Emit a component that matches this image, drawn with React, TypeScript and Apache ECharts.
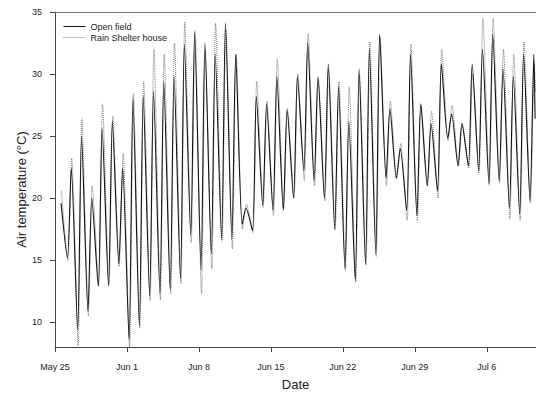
import React, { useEffect, useRef } from "react";
import * as echarts from "echarts";

// Day offsets of the x-axis ticks (days since May 25) and their labels
const tickDays = [0, 7, 14, 21, 28, 35, 42];
const tickLabels = ["May 25", "Jun 1", "Jun 8", "Jun 15", "Jun 22", "Jun 29", "Jul 6"];
const yTicks = [10, 15, 20, 25, 30, 35];

// Hour of day of the daily minimum / maximum readings
const openMinHour = 5;
const openMaxHour = 14;
const shelterMinHour = 6;
const shelterMaxHour = 15;

// Daily minimum and maximum air temperature (°C), day 0 = May 25
const openMin = [null, 15.2, 9.4, 10.9, 12.9, 12.9, 14.7, 8.6, 9.7, 12.1, 12.3, 12.6, 13.5, 17.0, 14.2, 15.5, 16.7, 16.7, 17.9, 17.4, 19.4, 19.0, 19.0, 20.0, 22.2, 21.4, 20.0, 17.5, 14.3, 13.4, 14.7, 15.5, 21.6, 21.6, 19.0, 18.6, 21.0, 20.6, 24.8, 22.6, 22.6, 22.2, 21.2, 21.4, 19.2, 18.7, 19.8];
const openMax = [19.6, 22.4, 25.0, 20.0, 25.6, 26.2, 22.4, 28.0, 28.2, 28.6, 29.4, 29.8, 32.4, 33.3, 32.5, 31.6, 34.1, 31.6, 19.2, 28.2, 27.6, 29.8, 27.2, 29.8, 32.5, 29.8, 30.8, 29.0, 26.2, 30.4, 32.0, 33.2, 27.2, 24.0, 31.6, 27.6, 26.0, 30.8, 26.8, 26.0, 30.8, 32.0, 33.2, 30.4, 29.8, 31.6, 31.6];
const shelterMin = [null, 15.0, 8.1, 10.5, 13.0, 13.0, 14.5, 8.0, 9.5, 11.7, 11.8, 12.3, 13.1, 16.4, 12.3, 14.3, 16.5, 15.9, 17.5, 17.2, 19.2, 18.6, 19.2, 20.0, 21.4, 21.0, 19.8, 17.4, 14.2, 13.2, 14.6, 15.3, 21.0, 21.6, 18.2, 18.2, 21.0, 20.0, 24.6, 22.6, 22.4, 22.0, 21.0, 21.2, 18.3, 18.2, 19.6];
const shelterMax = [20.6, 23.2, 26.4, 21.0, 27.6, 26.6, 23.6, 28.4, 29.4, 32.0, 31.6, 32.5, 34.2, 33.5, 32.0, 34.1, 33.5, 31.6, 19.5, 29.4, 27.8, 31.2, 27.0, 30.0, 33.3, 29.6, 30.4, 29.4, 29.0, 30.0, 32.6, 33.0, 27.8, 24.4, 32.4, 27.4, 27.0, 32.0, 27.5, 26.0, 30.0, 34.5, 34.5, 32.0, 31.6, 32.6, 30.8];

// Last reading of each series: [day offset, °C]
const openLast = [46.7, 26.4];
const shelterLast = [46.75, 28.6];

const buildSeries = (mins: (number | null)[], maxs: number[], hMin: number, hMax: number, last: number[]) => {
  const pts: number[][] = [];
  for (let d = 0; d < maxs.length; d++) {
    if (mins[d] != null) pts.push([d + hMin / 24, mins[d] as number]);
    pts.push([d + hMax / 24, maxs[d]]);
  }
  pts.push(last);
  return pts;
};

const FONT = "'Liberation Sans', Arial, Helvetica, sans-serif";

export default function App() {
  const ref = useRef<HTMLDivElement>(null);
  useEffect(() => {
    if (!ref.current) return;
    const chart = echarts.init(ref.current, undefined, { renderer: "svg" });
    const xMax = 46.79;
    chart.setOption({
      animation: false,
      backgroundColor: "#ffffff",
      textStyle: { fontFamily: FONT },
      grid: { left: 55, right: 0, top: 12, bottom: 44 },
      legend: {
        data: ["Open field", "Rain Shelter house"],
        orient: "vertical",
        left: 63,
        top: 22,
        padding: 0,
        itemWidth: 22,
        itemHeight: 9,
        itemGap: 2,
        itemStyle: { color: "rgba(0,0,0,0)", borderColor: "rgba(0,0,0,0)", borderWidth: 0 },
        lineStyle: { width: 1 },
        textStyle: { fontSize: 9, color: "#222", fontFamily: FONT },
      },
      xAxis: [
        {
          type: "value",
          min: 0,
          max: xMax,
          name: "Date",
          nameLocation: "middle",
          nameGap: 31,
          nameMoveOverlap: false,
          nameTextStyle: { fontSize: 13, color: "#222", fontFamily: FONT },
          axisLine: { show: true, lineStyle: { color: "#444", width: 1 } },
          axisTick: { show: true, length: 5, lineStyle: { color: "#444" }, customValues: tickDays },
          axisLabel: {
            fontSize: 9,
            color: "#222",
            margin: 15,
            customValues: tickDays,
            formatter: (v: number) => {
              const i = tickDays.indexOf(Math.round(v));
              return i >= 0 && Math.abs(v - tickDays[i]) < 1e-6 ? tickLabels[i] : "";
            },
          },
          splitLine: { show: false },
        },
        {
          type: "value",
          position: "top",
          min: 0,
          max: xMax,
          axisLine: { show: true, lineStyle: { color: "#777", width: 1 } },
          axisTick: { show: false },
          axisLabel: { show: false },
          splitLine: { show: false },
        },
      ],
      yAxis: {
        type: "value",
        min: 8,
        max: 35,
        name: "Air temperature (°C)",
        nameLocation: "middle",
        nameGap: 27,
        nameMoveOverlap: false,
        nameTextStyle: { fontSize: 13, color: "#222", fontFamily: FONT, padding: [0, 20, 0, 0] },
        axisLine: { show: true, lineStyle: { color: "#444", width: 1 } },
        axisTick: { show: true, length: 5, lineStyle: { color: "#444" }, customValues: yTicks },
        axisLabel: { fontSize: 9, color: "#222", margin: 13, customValues: yTicks },
        splitLine: { show: false },
      },
      series: [
        {
          name: "Rain Shelter house",
          type: "line",
          xAxisIndex: 0,
          data: buildSeries(shelterMin, shelterMax, shelterMinHour, shelterMaxHour, shelterLast),
          showSymbol: false,
          symbol: "none",
          smooth: 0.25,
          lineStyle: { color: "#7a7a7a", width: 1, type: [1, 1] },
          itemStyle: { color: "#7a7a7a" },
          z: 2,
        },
        {
          name: "Open field",
          type: "line",
          xAxisIndex: 0,
          data: buildSeries(openMin, openMax, openMinHour, openMaxHour, openLast),
          showSymbol: false,
          symbol: "none",
          smooth: 0.25,
          lineStyle: { color: "#111", width: 1.1 },
          itemStyle: { color: "#111" },
          z: 3,
        },
      ],
    });
    return () => chart.dispose();
  }, []);
  return (
    <div
      ref={ref}
      style={{ position: "fixed", left: 0, top: 0, width: 536, height: 396, background: "#fff" }}
    />
  );
}
